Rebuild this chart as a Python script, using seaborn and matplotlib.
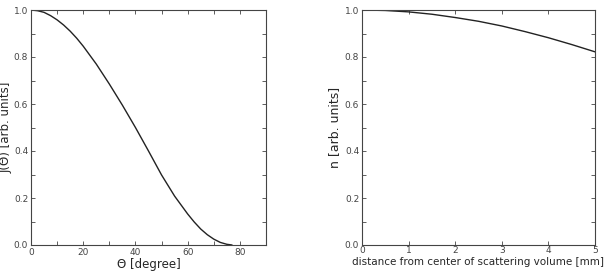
import matplotlib
matplotlib.use("Agg")
import matplotlib.pyplot as plt
import seaborn as sns
import pandas as pd

# angular distribution J(theta)
theta = [0, 2.5, 5, 7.5, 10, 12.5, 15, 17.5, 20, 25, 30, 35, 40, 45, 50, 55,
         60, 62.5, 65, 67.5, 70, 72.5, 75, 77]
J = [1.0, 0.997, 0.99, 0.976, 0.958, 0.936, 0.91, 0.88, 0.846, 0.77, 0.685,
     0.595, 0.50, 0.40, 0.298, 0.208, 0.132, 0.098, 0.068, 0.044, 0.025,
     0.011, 0.003, 0.0]

# density profile n(r)
dist = [0, 0.5, 1, 1.5, 2, 2.5, 3, 3.5, 4, 4.5, 5]
n = [1.0, 0.998, 0.992, 0.982, 0.968, 0.952, 0.932, 0.908, 0.882, 0.853, 0.822]

sns.set_style("ticks")
plt.rcParams['font.family'] = ['DejaVu Sans']

fig = plt.figure(figsize=(6.08, 2.72), dpi=100)
ax1 = fig.add_axes([31 / 608, 27 / 272, 235 / 608, 235 / 272])
ax2 = fig.add_axes([362 / 608, 27 / 272, 233 / 608, 235 / 272])

df1 = pd.DataFrame({'theta': theta, 'J': J})
df2 = pd.DataFrame({'dist': dist, 'n': n})

sns.lineplot(data=df1, x='theta', y='J', ax=ax1, color='#222222', lw=1.0)
sns.lineplot(data=df2, x='dist', y='n', ax=ax2, color='#222222', lw=1.0)

ax1.set_xlim(0, 90)
ax1.set_ylim(0, 1)
ax1.set_xticks([0, 20, 40, 60, 80])
ax1.set_xticks(range(0, 91, 10), minor=True)
ax1.set_xlabel('Θ [degree]', fontsize=8.5, labelpad=1)
ax1.set_ylabel('J(Θ) [arb. units]', fontsize=8.5, labelpad=1)

ax2.set_xlim(0, 5)
ax2.set_ylim(0, 1)
ax2.set_xticks([0, 1, 2, 3, 4, 5])
ax2.set_xlabel('distance from center of scattering volume [mm]', fontsize=7.5, labelpad=1)
ax2.set_ylabel('n [arb. units]', fontsize=9, labelpad=3)

for ax in (ax1, ax2):
    ax.set_yticks([0, 0.2, 0.4, 0.6, 0.8, 1.0])
    ax.set_yticks([i / 10 for i in range(11)], minor=True)
    ax.tick_params(which='both', direction='in', top=True, right=True,
                   labelsize=6.5, length=3, width=0.6, colors='#444444', pad=2)
    for s in ax.spines.values():
        s.set_linewidth(0.8)
        s.set_color('#444444')

ax2.tick_params(axis='x', pad=1)

fig.savefig('out.png', dpi=100)
